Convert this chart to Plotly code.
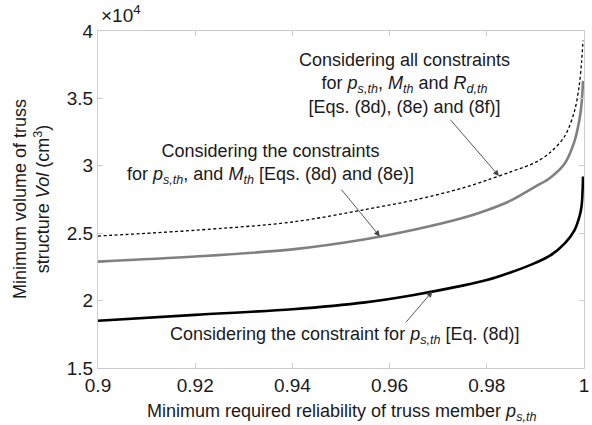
import numpy as np
import plotly.graph_objects as go

# Minimum required reliability of truss member p_s,th
p_s = [0.90, 0.92, 0.94, 0.955, 0.965, 0.975, 0.98, 0.985, 0.99, 0.993,
       0.996, 0.998, 0.999, 0.9995, 0.9998]

# Minimum volume of truss structure (cm^3)
vol_ps = [18500, 18940, 19360, 19870, 20420, 21110, 21520, 22100, 22800, 23330,
          24220, 25190, 26150, 27000, 29200]
vol_ps_m = [22890, 23270, 23800, 24550, 25250, 26120, 26700, 27430, 28460, 29100,
            30150, 31770, 33300, 34600, 36300]
vol_all = [24790, 25220, 25830, 26760, 27450, 28350, 28930, 29560, 30250, 30980,
           32180, 34000, 35900, 37700, 39300]

y_tickvals = [15000, 20000, 25000, 30000, 35000, 40000]
y_ticktext = ["1.5", "2", "2.5", "3", "3.5", "4"]
x_tickvals = [0.90, 0.92, 0.94, 0.96, 0.98, 1.00]
x_ticktext = ["0.9", "0.92", "0.94", "0.96", "0.98", "1"]

FONT = "Liberation Sans, Arial, sans-serif"
TXT = "#1a1a1a"
PS = "<i>p</i><sub><i>s,th</i></sub>"

fig = go.Figure()
fig.add_trace(go.Scatter(x=p_s, y=vol_all, mode="lines",
                         line=dict(color="black", width=1.3, dash="3px,2.5px",
                                   shape="spline", smoothing=0.9)))
fig.add_trace(go.Scatter(x=p_s, y=vol_ps_m, mode="lines",
                         line=dict(color="#808080", width=2.6,
                                   shape="spline", smoothing=0.9)))
fig.add_trace(go.Scatter(x=p_s, y=vol_ps, mode="lines",
                         line=dict(color="black", width=2.6,
                                   shape="spline", smoothing=0.9)))

axis_common = dict(showline=True, mirror="ticks", linecolor="#cccccc", linewidth=1,
                   ticks="inside", ticklen=5, tickcolor="#cccccc", showgrid=False,
                   zeroline=False, ticklabeloverflow="allow",
                   tickfont=dict(family=FONT, size=19, color=TXT))

fig.update_layout(
    width=592, height=425,
    margin=dict(l=98, r=3, t=31, b=57),
    paper_bgcolor="white", plot_bgcolor="white",
    showlegend=False,
    font=dict(family=FONT, color=TXT),
    xaxis=dict(range=[0.9, 1.0], tickvals=x_tickvals, ticktext=x_ticktext, **axis_common),
    yaxis=dict(range=[15000, 40000], tickvals=y_tickvals, ticktext=y_ticktext, **axis_common),
)


def on_curve(xv, ys):
    return float(np.interp(xv, p_s, ys))


LBL = dict(size=18)
annots = [
    # exponent marker for the y axis
    dict(x=0.0, y=1.0, xref="paper", yref="paper", xanchor="left", yanchor="bottom",
         xshift=1, yshift=3, text="\u00d710<sup>4</sup>", showarrow=False,
         font=dict(size=19)),
    # axis titles
    dict(x=0.5, y=0, xref="paper", yref="paper", xanchor="center", yanchor="top",
         yshift=-31, text="Minimum required reliability of truss member " + PS,
         showarrow=False, font=LBL),
    dict(x=0, y=0.5, xref="paper", yref="paper", xanchor="right", yanchor="middle",
         xshift=-43, textangle=-90,
         text="Minimum volume of truss<br>structure <i>Vol</i> (cm<sup>3</sup>)",
         showarrow=False, font=LBL),
    # curve labels
    dict(x=0.9630, y=36100, text="Considering all constraints<br>for " + PS
         + ", <i>M</i><sub><i>th</i></sub> and <i>R</i><sub><i>d,th</i></sub><br>"
         "[Eqs. (8d), (8e) and (8f)]", showarrow=False, font=LBL),
    dict(x=0.9354, y=30120, text="Considering the constraints<br>for " + PS
         + ", and <i>M</i><sub><i>th</i></sub> [Eqs. (8d) and (8e)]",
         showarrow=False, font=LBL),
    dict(x=0.9508, y=17380, text="Considering the constraint for " + PS + " [Eq. (8d)]",
         showarrow=False, font=LBL),
]

# leader arrows from the labels to the curves
arrows = [(0.9825, vol_all, 0.97223, 33530),
          (0.9580, vol_ps_m, 0.94985, 28340),
          (0.9688, vol_ps, 0.96307, 18270)]
for xt, ys, xa, ya in arrows:
    annots.append(dict(x=xt, y=on_curve(xt, ys), ax=xa, ay=ya, axref="x", ayref="y",
                       text="", showarrow=True, arrowhead=2, arrowsize=1.3,
                       arrowwidth=0.9, arrowcolor="#444444"))

fig.update_layout(annotations=annots)
fig.write_html("out.html")
